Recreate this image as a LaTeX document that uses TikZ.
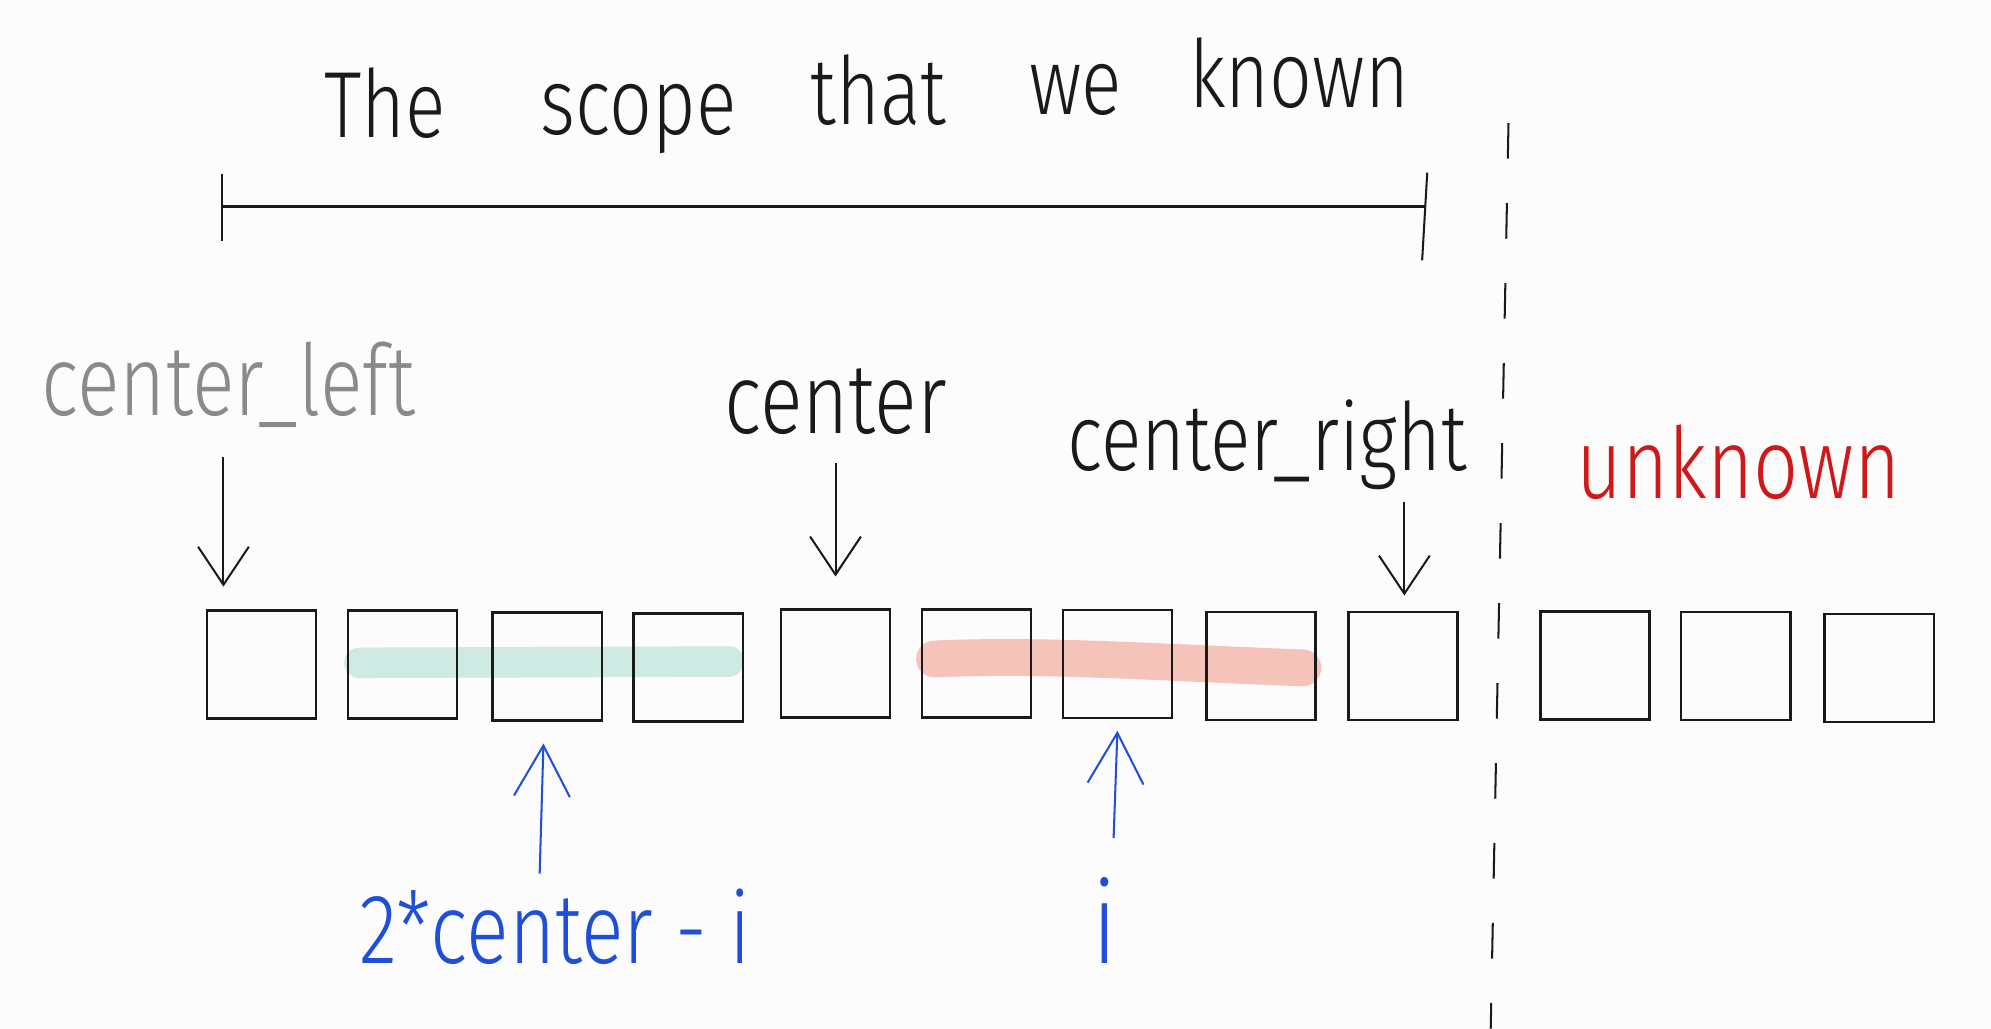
\documentclass[tikz,border=0pt]{standalone}
\usepackage{fontspec}
\setmainfont{Fira Sans Light}[FakeStretch=0.8]
\usetikzlibrary{arrows.meta}
\definecolor{bg}{HTML}{FCFCFC}
\definecolor{ink}{HTML}{1A1A1A}
\definecolor{grayink}{HTML}{8A8A8A}
\definecolor{redink}{HTML}{D01818}
\definecolor{blueink}{HTML}{1F4FD6}
\definecolor{mint}{HTML}{CFE9E3}
\definecolor{salmon}{HTML}{F5C3BA}
\begin{document}
\begin{tikzpicture}[x=1pt,y=-1pt,
  cell/.style={draw=ink, line width=2pt, minimum width=86pt, minimum height=85pt, inner sep=0pt},
  ttl/.style={font=\fontsize{74}{80}\selectfont, text=ink, inner sep=0pt, anchor=base},
  lbl/.style={font=\fontsize{78}{84}\selectfont, inner sep=0pt},
  darr/.style={draw=ink, line width=1.6pt, -{Straight Barb[length=30pt,width=40pt,line width=1.6pt]}},
  barr/.style={draw=blueink, line width=1.6pt, -{Straight Barb[length=40pt,width=44pt,line width=1.6pt]}},
  hl/.style={line cap=round}
]
\fill[bg] (0,0) rectangle (1568,810);
\useasboundingbox (0,0) rectangle (1568,810);

% title
\node[ttl] (t1) at (303,108) {The};
\node[ttl] (t2) at (503,106) {scope};
\node[ttl] (t3) at (692,98) {that};
\node[ttl] (t4) at (847,90) {we};
\node[ttl] (t5) at (1023,85) {known};

% scope bar
\coordinate (bl) at (175,163);
\coordinate (br) at (1122,163);
\coordinate (blt) at (175,137);
\coordinate (blb) at (175,190);
\coordinate (brt) at (1124,136);
\coordinate (brb) at (1120,205);
\draw[ink, line width=2.4pt] (bl) -- (br);
\draw[ink, line width=1.6pt] (blt) -- (blb);
\draw[ink, line width=1.6pt] (brt) -- (brb);

% dashed divider
\coordinate (d1) at (1188,97);
\coordinate (d2) at (1174,810);
\draw[ink, line width=1.6pt, dash pattern=on 28pt off 35pt] (d1) -- (d2);

% highlights
\coordinate (g1) at (283,522);
\coordinate (g2) at (574,521);
\draw[mint, hl, line width=24pt] (g1) -- (g2);
\coordinate (s1) at (736,519);
\coordinate (s2) at (1026,526);
\draw[salmon, hl, line width=29pt] (s1) .. controls (820,515) and (920,522) .. (s2);

% cells
\node[cell] (b1) at (206,523.5) {};
\node[cell] (b2) at (317,523.5) {};
\node[cell] (b3) at (431,525) {};
\node[cell] (b4) at (542,525.5) {};
\node[cell] (b5) at (658,522.5) {};
\node[cell] (b6) at (769,522.5) {};
\node[cell] (b7) at (880,523) {};
\node[cell] (b8) at (993,524.5) {};
\node[cell] (b9) at (1105,524.5) {};
\node[cell] (b10) at (1256,524) {};
\node[cell] (b11) at (1367,524.5) {};
\node[cell] (b12) at (1480,526) {};

% labels
\node[lbl, text=grayink] (cl) at (180,303) {center\_left};
\node[lbl, text=ink] (ce) at (658,316) {center};
\node[lbl, text=ink, font=\fontsize{74}{80}\selectfont] (cr) at (998,350) {center\_right};
\node[lbl, text=redink] (un) at (1369,364) {unknown};
\node[lbl, text=blueink] (mi) at (437,730) {2*center - i};
\node[lbl, text=blueink, font=\fontsize{90}{96}\selectfont] (ii) at (870,725) {i};

% arrows
\coordinate (a1) at (176,360);
\draw[darr] (a1) -- ([xshift=-30pt,yshift=18pt]b1.north);
\coordinate (a2) at (658,365);
\draw[darr] (a2) -- ([yshift=25pt]b5.north);
\coordinate (a3) at (1106,395);
\draw[darr] (a3) -- ([xshift=1pt,yshift=12pt]b9.north);
\coordinate (a4) at (425,688);
\draw[barr] (a4) -- ([xshift=-3pt,yshift=-17pt]b3.south);
\coordinate (a5) at (877,660);
\draw[barr] (a5) -- ([yshift=-9pt]b7.south);
\end{tikzpicture}
\end{document}
